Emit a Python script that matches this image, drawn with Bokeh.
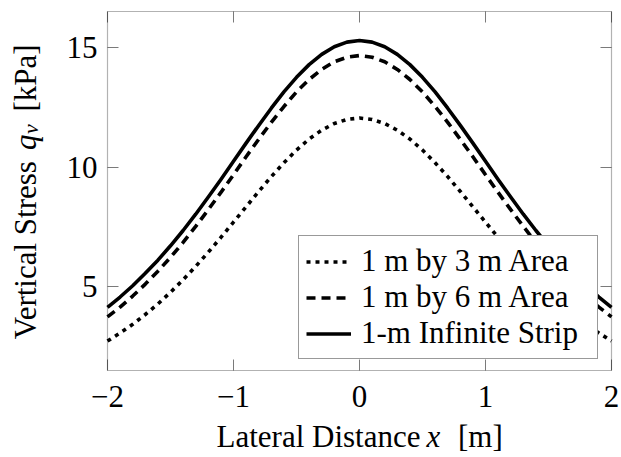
import math
from bokeh.plotting import figure
from bokeh.models import (Label, FixedTicker, Range1d, Legend, LegendItem,
                          LinearAxis, BoxAnnotation)
from bokeh.embed import file_html
from bokeh.resources import INLINE

# ---- data (lateral distance in m, vertical stress in kPa) ----
x_m = [-2.0, -1.9, -1.8, -1.7, -1.6, -1.5, -1.4, -1.3, -1.2, -1.1, -1.0,
       -0.9, -0.8, -0.7, -0.6, -0.5, -0.4, -0.3, -0.2, -0.1, 0.0,
       0.1, 0.2, 0.3, 0.4, 0.5, 0.6, 0.7, 0.8, 0.9, 1.0,
       1.1, 1.2, 1.3, 1.4, 1.5, 1.6, 1.7, 1.8, 1.9, 2.0]
area_1x3 = [2.73, 3.07, 3.43, 3.84, 4.28, 4.77, 5.29, 5.85, 6.44, 7.06, 7.70,
            8.34, 8.98, 9.60, 10.18, 10.71, 11.17, 11.54, 11.82, 11.99, 12.05,
            11.99, 11.82, 11.54, 11.17, 10.71, 10.18, 9.60, 8.98, 8.34, 7.70,
            7.06, 6.44, 5.85, 5.29, 4.77, 4.28, 3.84, 3.43, 3.07, 2.73]
area_1x6 = [3.74, 4.15, 4.61, 5.11, 5.65, 6.23, 6.85, 7.52, 8.22, 8.94, 9.68,
            10.43, 11.16, 11.87, 12.53, 13.14, 13.66, 14.08, 14.40, 14.59, 14.66,
            14.59, 14.40, 14.08, 13.66, 13.14, 12.53, 11.87, 11.16, 10.43, 9.68,
            8.94, 8.22, 7.52, 6.85, 6.23, 5.65, 5.11, 4.61, 4.15, 3.74]
strip_1m = [4.14, 4.57, 5.04, 5.56, 6.11, 6.71, 7.35, 8.03, 8.75, 9.48, 10.24,
            11.00, 11.74, 12.46, 13.14, 13.75, 14.28, 14.71, 15.03, 15.22, 15.29,
            15.22, 15.03, 14.71, 14.28, 13.75, 13.14, 12.46, 11.74, 11.00, 10.24,
            9.48, 8.75, 8.03, 7.35, 6.71, 6.11, 5.56, 5.04, 4.57, 4.14]
series_names = ["1 m by 3 m Area", "1 m by 6 m Area", "1-m Infinite Strip"]
x_ticks = [-2, -1, 0, 1, 2]
x_tick_labels = {-2: "\u22122", -1: "\u22121", 0: "0", 1: "1", 2: "2"}
y_ticks = [5, 10, 15]
X_MIN, X_MAX = -2.0, 2.0
Y_MIN, Y_MAX = 1.5, 16.5

# ---- layout (pixels) ----
W, H = 621, 457
LEFT, RIGHT, TOP, BOTTOM = 107, 611, 11, 370   # axis box edges on the page
FONT = "Liberation Serif"
FS = "31px"
LW = 3.6

sx = (RIGHT - LEFT) / (X_MAX - X_MIN)
sy = (BOTTOM - TOP) / (Y_MAX - Y_MIN)
x_range = Range1d(X_MIN - LEFT / sx, X_MAX + (W - RIGHT) / sx)
y_range = Range1d(Y_MIN - (H - BOTTOM) / sy, Y_MAX + TOP / sy)

def px2x(px):
    return X_MIN + (px - LEFT) / sx

def py2y(py):
    return Y_MIN + (BOTTOM - py) / sy

p = figure(width=W, height=H, output_backend="svg", toolbar_location=None,
           x_range=x_range, y_range=y_range,
           x_axis_location=None, y_axis_location=None,
           min_border=0, min_border_left=0, min_border_right=0,
           min_border_top=0, min_border_bottom=0)
p.xgrid.visible = False
p.ygrid.visible = False
p.outline_line_color = None
p.background_fill_color = "white"
p.border_fill_color = "white"

def make_axis(ticks, loc, labels=None, show_labels=True, standoff=10):
    ax = LinearAxis(ticker=FixedTicker(ticks=ticks), fixed_location=loc)
    ax.axis_line_color = None
    ax.major_tick_in = 11
    ax.major_tick_out = 0
    ax.major_tick_line_color = "#7a7a7a"
    ax.major_tick_line_width = 1
    ax.minor_tick_line_color = None
    ax.major_label_text_font = FONT
    ax.major_label_text_font_size = FS
    ax.major_label_standoff = standoff
    if show_labels:
        ax.major_label_text_color = "black"
        if labels:
            ax.major_label_overrides = labels
    else:
        ax.major_label_text_color = None
    return ax

p.add_layout(make_axis(x_ticks, Y_MIN, x_tick_labels, True, 15), "below")
p.add_layout(make_axis(y_ticks, X_MIN, None, True, 10), "left")
p.add_layout(make_axis(x_ticks, Y_MAX, None, False), "above")
p.add_layout(make_axis(y_ticks, X_MAX, None, False), "right")

p.add_layout(BoxAnnotation(left=X_MIN, right=X_MAX, bottom=Y_MIN, top=Y_MAX,
                           fill_alpha=0, line_color="black", line_width=1.2))

r1 = p.line(x_m, area_1x3, line_color="black", line_width=LW, line_dash="4 5")
r2 = p.line(x_m, area_1x6, line_color="black", line_width=LW, line_dash="9 6")
r3 = p.line(x_m, strip_1m, line_color="black", line_width=LW, line_join="round")

legend = Legend(items=[LegendItem(label=series_names[0], renderers=[r1]),
                       LegendItem(label=series_names[1], renderers=[r2]),
                       LegendItem(label=series_names[2], renderers=[r3])],
                location=(298, H - 359))
legend.label_text_font = FONT
legend.label_text_font_size = FS
legend.label_text_color = "black"
legend.glyph_width = 45
legend.glyph_height = 35
legend.label_height = 35
legend.label_width = 229
legend.label_standoff = 10
legend.padding = 7
legend.spacing = 0
legend.margin = 0
legend.border_line_color = "#333333"
legend.border_line_width = 1.2
legend.background_fill_color = "white"
legend.background_fill_alpha = 1
p.add_layout(legend, "center")

def lab(px, py, text, italic=False, size=FS, angle=0.0):
    p.add_layout(Label(x=px2x(px), y=py2y(py), text=text,
                       text_font=FONT, text_font_size=size,
                       text_font_style="italic" if italic else "normal",
                       text_color="black", text_align="left",
                       text_baseline="alphabetic", angle=angle))

# x-axis title: "Lateral Distance x [m]"
lab(216, 436, "Lateral Distance")
lab(426, 436, "x", italic=True)
lab(457.5, 436, "[m]")
# y-axis title: "Vertical Stress q_v [kPa]"
A = math.pi / 2
lab(25, 338.8, "Vertical Stress", angle=A)
lab(25, 149.4, "q", italic=True, angle=A)
lab(30, 133.5, "v", italic=True, size="22px", angle=A)
lab(25, 111, "[kPa]", angle=A)

open("out.html", "w").write(file_html(p, INLINE))
